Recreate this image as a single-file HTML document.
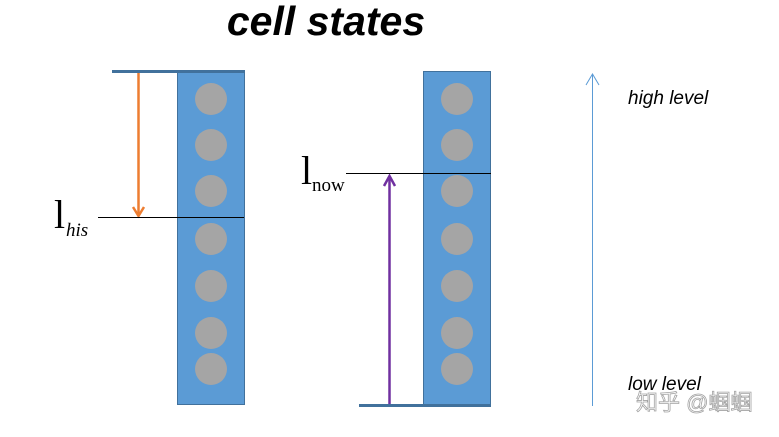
<!DOCTYPE html>
<html><head><meta charset="utf-8"><style>
html,body{margin:0;padding:0;background:#fff;}
</style></head><body>
<svg width="779" height="432" xmlns="http://www.w3.org/2000/svg">
<text x="326" y="35" text-anchor="middle" font-family="Liberation Sans, sans-serif" font-size="41" font-weight="bold" font-style="italic">cell states</text>
<!-- left column -->
<rect x="177.5" y="71.5" width="67" height="333" fill="#5b9bd5" stroke="#41719c" stroke-width="1"/>
<g fill="#a5a5a5">
<circle cx="211" cy="99" r="16"/><circle cx="211" cy="145" r="16"/><circle cx="211" cy="191" r="16"/><circle cx="211" cy="239" r="16"/><circle cx="211" cy="286" r="16"/><circle cx="211" cy="333" r="16"/><circle cx="211" cy="369" r="16"/>
</g>
<line x1="112" y1="71.5" x2="245" y2="71.5" stroke="#41719c" stroke-width="3"/>
<line x1="138.5" y1="73" x2="138.5" y2="216" stroke="#ed7d31" stroke-width="2.5"/>
<path d="M133,207 L138.5,216 L144,207" fill="none" stroke="#ed7d31" stroke-width="2.5"/>
<line x1="98" y1="217.5" x2="244" y2="217.5" stroke="#000" stroke-width="1"/>
<text x="54" y="228" font-family="Liberation Serif, serif" font-size="40">l</text>
<text x="66" y="236" font-family="Liberation Serif, serif" font-size="19" font-style="italic">his</text>
<!-- right column -->
<rect x="423.5" y="71.5" width="67" height="333" fill="#5b9bd5" stroke="#41719c" stroke-width="1"/>
<g fill="#a5a5a5">
<circle cx="457" cy="99" r="16"/><circle cx="457" cy="145" r="16"/><circle cx="457" cy="191" r="16"/><circle cx="457" cy="239" r="16"/><circle cx="457" cy="286" r="16"/><circle cx="457" cy="333" r="16"/><circle cx="457" cy="369" r="16"/>
</g>
<line x1="359" y1="405.5" x2="491" y2="405.5" stroke="#41719c" stroke-width="3"/>
<line x1="389.5" y1="404" x2="389.5" y2="176" stroke="#7030a0" stroke-width="2.5"/>
<path d="M384,186 L389.5,176 L395,186" fill="none" stroke="#7030a0" stroke-width="2.5"/>
<line x1="346" y1="173.5" x2="491" y2="173.5" stroke="#000" stroke-width="1"/>
<text x="301" y="184" font-family="Liberation Serif, serif" font-size="40">l</text>
<text x="312" y="191" font-family="Liberation Serif, serif" font-size="19">now</text>
<!-- scale arrow -->
<line x1="592.5" y1="406" x2="592.5" y2="74" stroke="#5b9bd5" stroke-width="1"/>
<path d="M586,85 L592.5,74 L599,85" fill="none" stroke="#5b9bd5" stroke-width="1"/>
<text x="628" y="104" font-family="Liberation Sans, sans-serif" font-size="19" font-style="italic">high level</text>
<text x="628" y="390" font-family="Liberation Sans, sans-serif" font-size="19" font-style="italic">low level</text>
<text x="636" y="410" font-family="Liberation Sans, 'Noto Sans CJK SC', sans-serif" font-size="22" fill="#fff" stroke="#999" stroke-width="0.8" opacity="0.9">知乎 @蝈蝈</text>
</svg>
</body></html>
